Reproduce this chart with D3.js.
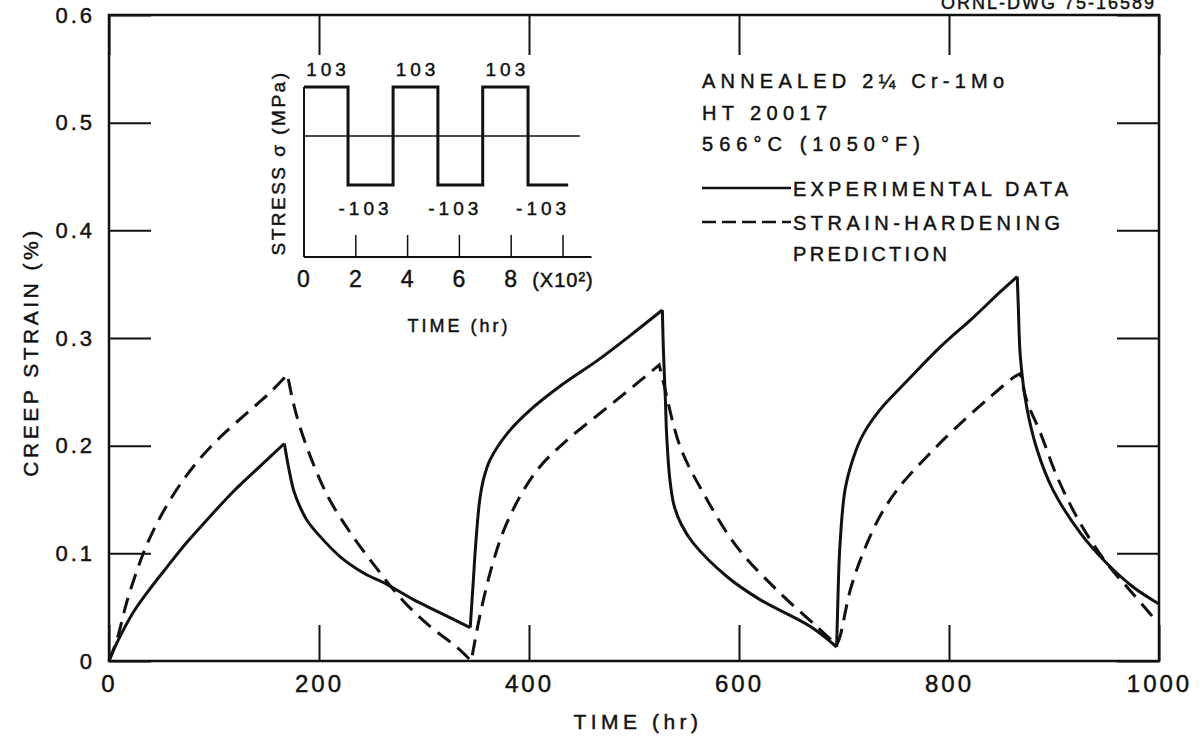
<!DOCTYPE html>
<html>
<head>
<meta charset="utf-8">
<script src="https://cdn.jsdelivr.net/npm/d3@7"></script>
<style>
body{margin:0;background:#fff;}
text{font-family:"Liberation Sans",Arial,sans-serif;fill:#111;stroke:#111;stroke-width:0.45px;}
</style>
</head>
<body>
<div id="chart"></div>
<script>

// creep strain vs time. each piece is one loading half-cycle
var expSegments=[
    [[0,0],[7.6,0.017],[23,0.045],[39,0.067],[55,0.087],[74,0.110],[96,0.134],[118,0.157],[144,0.181],[167,0.202]],
    [[167,0.202],[170,0.185],[172,0.175],[176,0.158],[182,0.143],[189,0.130],[198,0.119],[220,0.097],[242,0.082],[265,0.071],[290,0.057],[315,0.045],[344,0.031]],
    [[344,0.031],[347,0.075],[349,0.105],[353,0.149],[357,0.170],[363,0.187],[379,0.211],[401,0.233],[432,0.257],[465,0.279],[496,0.302],[527,0.326]],
    [[527,0.326],[528,0.289],[530,0.240],[531,0.212],[534,0.170],[538,0.145],[545,0.127],[556,0.110],[589,0.078],[620,0.057],[668,0.032],[693,0.013]],
    [[693,0.013],[694,0.05],[696,0.105],[701,0.159],[709,0.189],[718,0.210],[734,0.233],[760,0.260],[791,0.291],[823,0.319],[849,0.343],[865,0.357]],
    [[865,0.357],[866,0.330],[868,0.282],[874,0.236],[884,0.196],[899,0.159],[925,0.119],[950,0.091],[975,0.069],[1000,0.053]]
];

var predSegments=[
    [[0,0],[7.6,0.020],[17,0.055],[27,0.085],[36,0.108],[49,0.134],[65,0.160],[84,0.185],[106,0.208],[131,0.230],[153,0.249],[170,0.266]],
    [[170,0.266],[175,0.242],[182,0.217],[195,0.182],[210,0.150],[230,0.119],[255,0.086],[280,0.056],[306,0.032],[331,0.013],[345,0]],
    [[345,0],[353,0.041],[363,0.082],[375,0.119],[391,0.152],[410,0.180],[436,0.205],[465,0.228],[493,0.250],[524,0.275]],
    [[524,0.275],[528,0.259],[544,0.199],[566,0.156],[598,0.106],[636,0.066],[674,0.032],[693,0.015]],
    [[693,0.015],[696,0.022],[706,0.066],[718,0.100],[734,0.134],[753,0.162],[779,0.190],[808,0.218],[839,0.245],[861,0.263],[868,0.267]],
    [[868,0.267],[874,0.242],[887,0.212],[903,0.171],[925,0.128],[950,0.091],[972,0.066],[995,0.040]]
];

var xTicks=[0,200,400,600,800,1000];
var yTicks=[0,0.1,0.2,0.3,0.4,0.5,0.6];

// inset: stress history
var stressTime=[0,1.7,3.44,5.17,6.9,8.65,10.2];
var stressValue=[103,-103,103,-103,103,-103,-103];
var insetTicks=[0,2,4,6,8,10];
var insetTickLabels=["0","2","4","6","8","(X10²)"];

var legendLines=["ANNEALED 2¼ Cr-1Mo","HT 20017","566°C (1050°F)"];
var seriesNames=["EXPERIMENTAL DATA","STRAIN-HARDENING","PREDICTION"];

var width=1200,height=741;

var svg=d3.select("#chart").append("svg")
    .attr("width",width)
    .attr("height",height);

var x=d3.scaleLinear().domain([0,1000]).range([109,1159]);
var y=d3.scaleLinear().domain([0,0.6]).range([661,15]);

// frame
svg.append("rect")
    .attr("x",x(0)).attr("y",y(0.6))
    .attr("width",x(1000)-x(0)).attr("height",y(0)-y(0.6))
    .style("fill","none").style("stroke","#111").style("stroke-width",2.5);

var bottomAxis=svg.append("g")
    .attr("transform","translate(0,"+y(0)+")")
    .call(d3.axisBottom(x).tickValues(xTicks).tickSize(-36).tickPadding(14).tickFormat(d3.format("d")));
var topAxis=svg.append("g")
    .attr("transform","translate(0,"+y(0.6)+")")
    .call(d3.axisTop(x).tickValues(xTicks).tickSize(-40).tickFormat(""));
var leftAxis=svg.append("g")
    .attr("transform","translate("+x(0)+",0)")
    .call(d3.axisLeft(y).tickValues(yTicks).tickSize(-42).tickPadding(14)
        .tickFormat(function(d){return d===0?"0":d3.format(".1f")(d);}));
var rightAxis=svg.append("g")
    .attr("transform","translate("+x(1000)+",0)")
    .call(d3.axisRight(y).tickValues(yTicks).tickSize(-42).tickFormat(""));

[bottomAxis,topAxis,leftAxis,rightAxis].forEach(function(a){
    a.select(".domain").remove();
    a.selectAll("line").style("stroke","#111").style("stroke-width",2);
});
bottomAxis.selectAll("text")
    .style("font-size","24px").style("letter-spacing","3px").attr("fill","#111");
leftAxis.selectAll("text")
    .style("font-size","22px").style("letter-spacing","3px").attr("fill","#111");

// axis titles
svg.append("text")
    .attr("x",638).attr("y",729)
    .attr("text-anchor","middle")
    .style("font-size","21px").style("letter-spacing","4.5px")
    .text("TIME (hr)");

svg.append("text")
    .attr("transform","translate(38,352) rotate(-90)")
    .attr("text-anchor","middle")
    .style("font-size","21px").style("letter-spacing","3.5px")
    .text("CREEP STRAIN (%)");

svg.append("text")
    .attr("x",1156).attr("y",9)
    .attr("text-anchor","end")
    .style("font-size","18px").style("letter-spacing","2px")
    .text("ORNL-DWG 75-16589");

// curves
var line=d3.line()
    .x(function(d){return x(d[0]);})
    .y(function(d){return y(d[1]);})
    .curve(d3.curveCatmullRom.alpha(0.5));

svg.selectAll(".exp")
    .data(expSegments)
    .enter()
    .append("path")
    .attr("class","exp")
    .attr("d",line)
    .style("fill","none").style("stroke","#111").style("stroke-width",3)
    .style("stroke-linejoin","round");

// dashed one is drawn as a single path so the dashes run on across the cusps
var predPath=predSegments.map(function(s){return line(s);}).join("");
svg.append("path")
    .attr("d",predPath.replace(/M/g,function(m,i){return i===0?"M":"L";}))
    .style("fill","none").style("stroke","#111").style("stroke-width",3)
    .style("stroke-dasharray","16,9");

// legend block
var legend=svg.append("g").attr("transform","translate(702,0)");
var infoWidths=[302,125,218];
legend.selectAll(".info")
    .data(legendLines)
    .enter()
    .append("text")
    .attr("x",0)
    .attr("y",function(d,i){return 88+i*31.5;})
    .attr("textLength",function(d,i){return infoWidths[i];})
    .attr("lengthAdjust","spacing")
    .style("font-size","20px")
    .text(function(d){return d;});

legend.append("line")
    .attr("x1",0).attr("x2",89).attr("y1",188).attr("y2",188)
    .style("stroke","#111").style("stroke-width",2.5);
legend.append("line")
    .attr("x1",0).attr("x2",89).attr("y1",222).attr("y2",222)
    .style("stroke","#111").style("stroke-width",2.5).style("stroke-dasharray","14,6");

var nameWidths=[275,267,154];
var nameY=[196,230,261];
legend.selectAll(".name")
    .data(seriesNames)
    .enter()
    .append("text")
    .attr("x",91)
    .attr("y",function(d,i){return nameY[i];})
    .attr("textLength",function(d,i){return nameWidths[i];})
    .attr("lengthAdjust","spacing")
    .style("font-size","20px")
    .text(function(d){return d;});

// inset chart
var ix=d3.scaleLinear().domain([0,10]).range([304,563]);
var iy=d3.scaleLinear().domain([-103,103]).range([185,87]);
var inset=svg.append("g");

inset.append("line")
    .attr("x1",ix(0)).attr("x2",ix(0)).attr("y1",iy(103)).attr("y2",257)
    .style("stroke","#111").style("stroke-width",2);
inset.append("line")
    .attr("x1",ix(0)).attr("x2",ix(11.1)).attr("y1",257).attr("y2",257)
    .style("stroke","#111").style("stroke-width",2);
inset.append("line")
    .attr("x1",ix(0)).attr("x2",ix(10.65)).attr("y1",iy(0)).attr("y2",iy(0))
    .style("stroke","#111").style("stroke-width",1.5);

inset.selectAll(".itick")
    .data(insetTicks.slice(1))
    .enter()
    .append("line")
    .attr("x1",function(d){return ix(d);}).attr("x2",function(d){return ix(d);})
    .attr("y1",257).attr("y2",235)
    .style("stroke","#111").style("stroke-width",1.5);

inset.selectAll(".ilab")
    .data(insetTicks)
    .enter()
    .append("text")
    .attr("x",function(d){return ix(d);})
    .attr("y",287)
    .attr("text-anchor","middle")
    .style("font-size",function(d,i){return i<5?"23px":"20px";})
    .style("letter-spacing","1px")
    .text(function(d,i){return insetTickLabels[i];});

var stressLine=d3.line()
    .x(function(d,i){return ix(stressTime[i]);})
    .y(function(d){return iy(d);})
    .curve(d3.curveStepAfter);

inset.append("path")
    .attr("d",stressLine(stressValue))
    .style("fill","none").style("stroke","#111").style("stroke-width",3);

// +/-103 labels over each block
for(var i=0;i<stressTime.length-1;i++){
    var mid=ix((stressTime[i]+stressTime[i+1])/2);
    if(stressValue[i]>0){
        inset.append("text").attr("x",mid+2).attr("y",76)
            .attr("text-anchor","middle")
            .style("font-size","19px").style("letter-spacing","4px")
            .text("103");
    } else {
        inset.append("text").attr("x",mid-5).attr("y",215)
            .attr("text-anchor","middle")
            .style("font-size","19px").style("letter-spacing","4px")
            .text("-103");
    }
}

inset.append("text")
    .attr("transform","translate(285,163) rotate(-90)")
    .attr("text-anchor","middle")
    .style("font-size","19px").style("letter-spacing","2.5px")
    .text("STRESS σ (MPa)");

inset.append("text")
    .attr("x",459).attr("y",332)
    .attr("text-anchor","middle")
    .style("font-size","18px").style("letter-spacing","3px")
    .text("TIME (hr)");

</script>
</body>
</html>
